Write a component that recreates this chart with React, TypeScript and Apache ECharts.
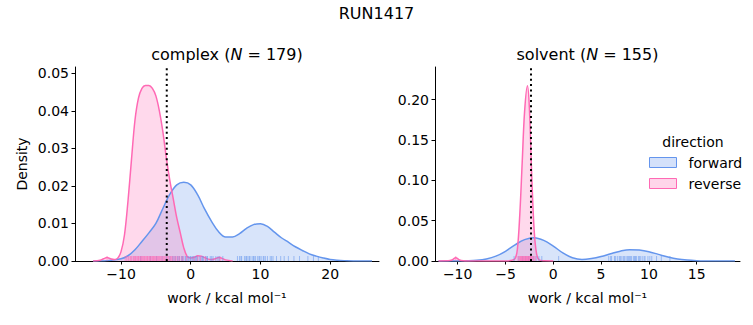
import React, { useEffect, useRef } from "react";
import * as echarts from "echarts";

const FONT = "DejaVu Sans";
const BLUE = "#6495ED";
const PINK = "#FF69B4";

// ---- complex panel ----
const complexForwardX = [-14, -12, -10, -9, -8, -7, -6, -5, -4, -3, -2, -1, 0, 1, 2, 3, 4, 5, 6, 7, 8, 9, 10, 11, 12, 13, 14, 15, 16, 17, 18, 19, 20, 21, 22, 24, 26];
const complexForwardY = [0, 0.0001, 0.0006, 0.0014, 0.003, 0.0052, 0.0075, 0.01, 0.014, 0.0178, 0.0203, 0.021, 0.0203, 0.0176, 0.0138, 0.0105, 0.0078, 0.0064, 0.0064, 0.0073, 0.0087, 0.0097, 0.0099, 0.0092, 0.0077, 0.0062, 0.005, 0.0038, 0.0028, 0.0019, 0.0013, 0.0008, 0.0004, 0.0002, 0.0001, 0, 0];
const complexReverseX = [-14, -13, -12.5, -12, -11.5, -11, -10.5, -10, -9.5, -9, -8.5, -8, -7.5, -7, -6.5, -6, -5.5, -5, -4.5, -4, -3.5, -3, -2.5, -2, -1.5, -1, -0.5, 0, 0.5, 1, 1.5, 2, 2.5, 3, 3.5, 4, 4.5, 5, 6];
const complexReverseY = [0, 0.0002, 0.0006, 0.0009, 0.0006, 0.0004, 0.0007, 0.0025, 0.007, 0.016, 0.027, 0.0375, 0.0434, 0.046, 0.0468, 0.0468, 0.046, 0.044, 0.04, 0.0345, 0.0275, 0.0215, 0.0165, 0.0115, 0.0075, 0.0035, 0.0012, 0.0008, 0.001, 0.0014, 0.0013, 0.0009, 0.0005, 0.0004, 0.0006, 0.0009, 0.0007, 0.0003, 0];
const complexForwardRug = [-7.2, -5.8, -4.9, -4.1, -3.5, -3.0, -2.6, -2.4, -2.2, -1.9, -1.7, -1.6, -1.3, -1.2, -1.1, -0.8, -0.7, -0.5, -0.3, -0.1, 0.0, 0.2, 0.35, 0.5, 0.7, 0.85, 1.0, 1.3, 1.5, 1.7, 1.8, 2.1, 2.3, 2.4, 2.8, 3.0, 3.2, 3.6, 3.9, 4.1, 4.6, 6.7, 7.0, 7.2, 7.3, 7.7, 7.9, 8.0, 8.2, 8.4, 8.5, 8.8, 9.0, 9.1, 9.3, 9.6, 9.8, 9.9, 10.1, 10.4, 10.5, 10.7, 11.0, 11.4, 11.6, 11.8, 12.3, 12.9, 13.4, 14.0, 14.8, 15.6, 16.8, 17.6, 18.3];
const complexReverseRug = [-12.0, -9.4, -9.2, -9.0, -8.9, -8.7, -8.6, -8.5, -8.3, -8.2, -8.1, -8.0, -7.9, -7.85, -7.7, -7.6, -7.5, -7.45, -7.3, -7.2, -7.1, -7.0, -6.95, -6.8, -6.7, -6.6, -6.55, -6.4, -6.3, -6.2, -6.15, -6.0, -5.9, -5.8, -5.75, -5.6, -5.5, -5.4, -5.35, -5.2, -5.1, -5.0, -4.9, -4.8, -4.7, -4.6, -4.5, -4.4, -4.3, -4.2, -4.05, -3.9, -3.8, -3.7, -3.55, -3.4, -3.3, -3.2, -3.0, -2.9, -2.75, -2.6, -2.4, -2.2, -2.0, -1.8, -1.6, -1.3, -1.1, -0.6, 0.5, 1.0, 1.4, 2.1, 4.2];
const complexMarker = -3.44;
const complexXTicks = [-10, 0, 10, 20];
const complexYTicks = [0, 0.01, 0.02, 0.03, 0.04, 0.05];

// ---- solvent panel ----
const solventForwardX = [-12, -10, -9, -8, -7, -6, -5, -4, -3, -2, -1, 0, 1, 2, 3, 4, 5, 6, 7, 8, 9, 10, 11, 12, 13, 14, 15, 16, 17, 19];
const solventForwardY = [0, 0, 0.0002, 0.0008, 0.0025, 0.006, 0.012, 0.02, 0.0265, 0.0288, 0.0255, 0.0185, 0.01, 0.004, 0.0018, 0.003, 0.0055, 0.009, 0.0122, 0.014, 0.0135, 0.0115, 0.0082, 0.005, 0.0025, 0.0011, 0.0004, 0.0001, 0, 0];
const solventReverseX = [-12, -11, -10.6, -10.2, -9.8, -9.4, -9, -5, -4.5, -4, -3.75, -3.5, -3.25, -3, -2.7, -2.5, -2.25, -2, -1.75, -1.5, -1, 0];
const solventReverseY = [0, 0.0002, 0.0012, 0.004, 0.0012, 0.0002, 0, 0, 0.0005, 0.003, 0.015, 0.058, 0.122, 0.185, 0.217, 0.19, 0.105, 0.038, 0.009, 0.0015, 0.0002, 0];
const solventForwardRug = [-4.1, -3.6, -3.2, -2.9, -2.6, -2.4, -2.1, -1.8, -1.5, -1.2, 0.56, 5.8, 6.0, 6.1, 6.4, 6.5, 6.7, 6.9, 7.0, 7.1, 7.3, 7.4, 7.5, 7.7, 7.8, 7.9, 8.0, 8.1, 8.2, 8.4, 8.5, 8.6, 8.7, 8.9, 9.0, 9.1, 9.3, 9.5, 9.6, 9.9, 10.1, 10.3, 10.8, 11.3, 12.2];
const solventReverseRug = [-10.2, -3.7, -3.6, -3.5, -3.45, -3.4, -3.35, -3.3, -3.25, -3.2, -3.15, -3.1, -3.05, -3.0, -2.95, -2.9, -2.85, -2.8, -2.75, -2.7, -2.65, -2.6, -2.55, -2.5, -2.45, -2.4, -2.35, -2.3, -2.25, -2.2, -2.1, -2.0, -1.9];
const solventMarker = -2.33;
const solventXTicks = [-10, -5, 0, 5, 10, 15];
const solventYTicks = [0, 0.05, 0.1, 0.15, 0.2];

const zip = (xs: number[], ys: number[]) => xs.map((x, i) => [x, ys[i]]);
const fmtX = (v: number) => (v < 0 ? "\u2212" + Math.abs(v) : String(v));
const fmtY = (v: number) => v.toFixed(2);

const textBase = { fontFamily: FONT, color: "#000", fontSize: 14 };

function xAxisCfg(grid: number, min: number, max: number, ticks: number[]) {
  return {
    type: "value",
    gridIndex: grid,
    min,
    max,
    axisLine: { show: true, onZero: false, lineStyle: { color: "#000", width: 1 } },
    axisTick: { show: true, length: 3.5, lineStyle: { color: "#000", width: 1 }, customValues: ticks },
    axisLabel: { ...textBase, customValues: ticks, formatter: fmtX, margin: 6 },
    splitLine: { show: false },
    name: "work / kcal mol\u207B\u00B9",
    nameLocation: "middle",
    nameGap: 30,
    nameTextStyle: { ...textBase },
  };
}

function yAxisCfg(grid: number, max: number, ticks: number[], name?: string) {
  return {
    type: "value",
    gridIndex: grid,
    min: 0,
    max,
    axisLine: { show: true, onZero: false, lineStyle: { color: "#000", width: 1 } },
    axisTick: { show: true, length: 3.5, lineStyle: { color: "#000", width: 1 }, customValues: ticks },
    axisLabel: { ...textBase, customValues: ticks, formatter: fmtY, margin: 6 },
    splitLine: { show: false },
    name: name || "",
    nameLocation: "middle",
    nameGap: 46,
    nameTextStyle: { ...textBase },
  };
}

function kde(name: string, color: string, idx: number, xs: number[], ys: number[]) {
  return {
    name,
    type: "line",
    xAxisIndex: idx,
    yAxisIndex: idx,
    data: zip(xs, ys),
    smooth: 0.35,
    symbol: "none",
    showSymbol: false,
    lineStyle: { color, width: 1.5 },
    itemStyle: { color },
    areaStyle: { color, opacity: 0.25 },
    silent: true,
    z: 2,
  };
}

function rug(name: string, color: string, idx: number, vals: number[]) {
  return {
    name,
    type: "scatter",
    xAxisIndex: idx,
    yAxisIndex: idx,
    data: vals.map((v) => [v, 0]),
    symbol: "rect",
    symbolSize: [1, 5],
    symbolOffset: [0, -2.5],
    itemStyle: { color, opacity: 0.55 },
    silent: true,
    z: 3,
  };
}

function marker(idx: number, x: number, ymax: number) {
  return {
    name: "marker" + idx,
    type: "line",
    xAxisIndex: idx,
    yAxisIndex: idx,
    data: [[x, 0], [x, ymax]],
    symbol: "none",
    lineStyle: { color: "#000", width: 2, type: [2, 3.3] },
    silent: true,
    z: 5,
  };
}

const C_YMAX = 0.0517;
const S_YMAX = 0.2403;

const option = {
  animation: false,
  grid: [
    { left: 75, top: 67, width: 304, height: 194 },
    { left: 435, top: 67, width: 305, height: 194 },
  ],
  xAxis: [xAxisCfg(0, -16.6, 27.0, complexXTicks), xAxisCfg(1, -12.37, 19.53, solventXTicks)],
  yAxis: [yAxisCfg(0, C_YMAX, complexYTicks, "Density"), yAxisCfg(1, S_YMAX, solventYTicks)],
  legend: {
    orient: "vertical",
    left: 649,
    top: 152,
    padding: 0,
    itemWidth: 27,
    itemHeight: 10,
    itemGap: 0,
    selectedMode: false,
    formatter: (n: string) => "{t|" + n + "}",
    textStyle: {
      ...textBase,
      lineHeight: 21,
      rich: { t: { fontFamily: FONT, fontSize: 14, color: "#000", lineHeight: 21, padding: [0, 0, 0, 7] } },
    },
    data: [
      { name: "forward", icon: "rect", itemStyle: { color: "rgba(100,149,237,0.28)", borderColor: BLUE, borderWidth: 1 } },
      { name: "reverse", icon: "rect", itemStyle: { color: "rgba(255,105,180,0.28)", borderColor: PINK, borderWidth: 1 } },
    ],
  },
  graphic: [
    { type: "text", x: 376.5, y: 13, style: { text: "RUN1417", fontSize: 16, fontFamily: FONT, fill: "#000", align: "center", verticalAlign: "middle" } },
    {
      type: "text", x: 227, y: 54,
      style: {
        text: "{a|complex (}{i|N}{a| = 179)}", align: "center", verticalAlign: "middle", fill: "#000",
        fontSize: 16, fontFamily: FONT,
        rich: { a: { fontSize: 16, fontFamily: FONT, fill: "#000" }, i: { fontSize: 16, fontFamily: FONT, fontStyle: "italic", fill: "#000" } },
      },
    },
    {
      type: "text", x: 587.5, y: 54,
      style: {
        text: "{a|solvent (}{i|N}{a| = 155)}", align: "center", verticalAlign: "middle", fill: "#000",
        fontSize: 16, fontFamily: FONT,
        rich: { a: { fontSize: 16, fontFamily: FONT, fill: "#000" }, i: { fontSize: 16, fontFamily: FONT, fontStyle: "italic", fill: "#000" } },
      },
    },
    { type: "text", x: 693, y: 142, style: { text: "direction", fontSize: 14, fontFamily: FONT, fill: "#000", align: "center", verticalAlign: "middle" } },
  ],
  series: [
    kde("forward", BLUE, 0, complexForwardX, complexForwardY),
    kde("reverse", PINK, 0, complexReverseX, complexReverseY),
    rug("forward", BLUE, 0, complexForwardRug),
    rug("reverse", PINK, 0, complexReverseRug),
    marker(0, complexMarker, C_YMAX),
    kde("forward", BLUE, 1, solventForwardX, solventForwardY),
    kde("reverse", PINK, 1, solventReverseX, solventReverseY),
    rug("forward", BLUE, 1, solventForwardRug),
    rug("reverse", PINK, 1, solventReverseRug),
    marker(1, solventMarker, S_YMAX),
  ],
};

export default function App() {
  const ref = useRef<HTMLDivElement>(null);
  useEffect(() => {
    const chart = echarts.init(ref.current!, null, { renderer: "svg" });
    chart.setOption(option as any);
    return () => chart.dispose();
  }, []);
  return (
    <div
      ref={ref}
      style={{ position: "fixed", left: 0, top: 0, width: 753, height: 325, background: "#fff" }}
    />
  );
}
